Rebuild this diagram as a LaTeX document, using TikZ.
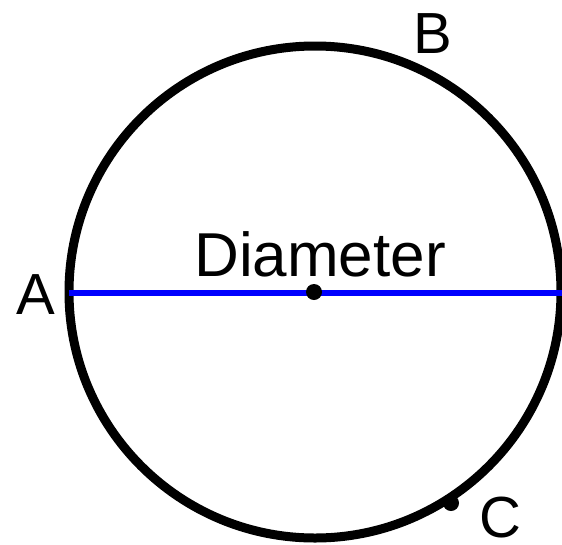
\documentclass[tikz,border=0pt]{standalone}
\usepackage{fontspec}
\setmainfont{Liberation Sans}
\begin{document}
\begin{tikzpicture}[x=1pt,y=-1pt,
  lbl/.style={inner sep=0pt,font=\fontsize{58}{58}\selectfont},
  dotmark/.style={circle,fill=black,inner sep=0pt,minimum size=16pt}]
\useasboundingbox (0,0) rectangle (562,544);
\begin{scope}
\clip (0,0) rectangle (562,544);
\coordinate (O) at (315,292);
\draw[line width=9pt] (O) circle (246);
\coordinate (A) at (69,293);
\coordinate (R) at (566,293);
\draw[blue,line width=6pt] (A) -- (R);
\node[dotmark] (ctr) at (314,292) {};
\node[dotmark] (Cdot) at (451,503) {};
\end{scope}
\node[lbl,anchor=base,font=\fontsize{62}{62}\selectfont] (diam) at (320,276) {Diameter};
\node[lbl,anchor=base] (Alab) at (36,314) {A};
\node[lbl,anchor=base] (Blab) at (433,53) {B};
\node[lbl,anchor=base] (Clab) at (500,537) {C};
\end{tikzpicture}
\end{document}
